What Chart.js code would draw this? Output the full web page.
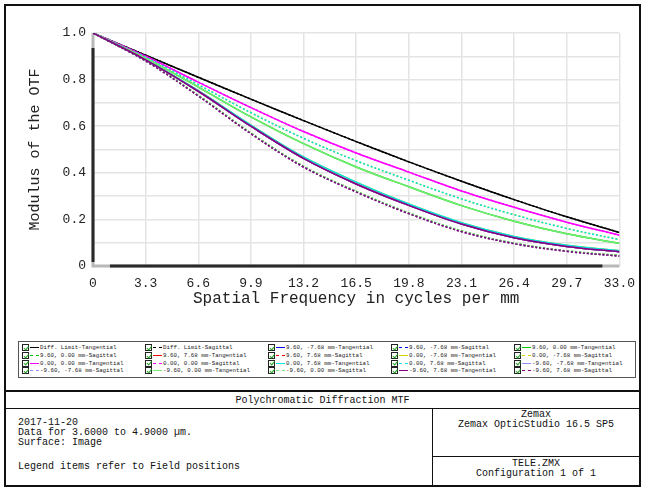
<!DOCTYPE html>
<html>
<head>
<meta charset="utf-8">
<script src="https://cdn.jsdelivr.net/npm/chart.js@4.4.1/dist/chart.umd.min.js"></script>
<style>
body { margin: 0; background: #fff; }
#page { position: relative; width: 645px; height: 489px; overflow: hidden; font-family: "Liberation Mono", monospace; color: #111; }
#frame { position: absolute; left: 4px; top: 4px; width: 633px; height: 479px; border: 2px solid #111; }
#wrap { position: absolute; left: 0; top: 0; width: 645px; height: 335px; }
#legend { position: absolute; left: 18px; top: 341px; width: 618px; height: 37px; box-sizing: border-box; border: 1px solid #555;
  display: grid; grid-template-columns: repeat(5, 123px); grid-auto-rows: 7.7px; padding: 2px 0 0 3px; }
.item { display: flex; align-items: center; white-space: nowrap; font-size: 5.8px; line-height: 7px; color: #222; }
.chk { position: relative; width: 5px; height: 5px; border: 1px solid #222; background: #fff; margin-right: 1px; flex: none; }
.chk::after { content: ''; position: absolute; left: 1.5px; top: -0.5px; width: 1.5px; height: 3.5px;
  border-right: 1.5px solid #1fa01f; border-bottom: 1.5px solid #1fa01f; transform: rotate(40deg); }
.smp { width: 9px; height: 0; flex: none; margin-right: 1px; }
#box { position: absolute; left: 4px; top: 390px; width: 637px; height: 97px; box-sizing: border-box; border: 2px solid #111; font-size: 10px; line-height: 10px; }
.t { position: absolute; white-space: nowrap; }
</style>
</head>
<body>
<div id="page">
  <div id="frame"></div>
  <div id="wrap"><canvas id="mtf" width="645" height="335"></canvas></div>
  <div id="legend"></div>
  <div id="box">
    <div class="t" style="left:0;width:633px;top:4px;text-align:center;">Polychromatic Diffraction MTF</div>
    <div style="position:absolute;left:0;top:16px;width:633px;border-top:1px solid #111;"></div>
    <div style="position:absolute;left:426px;top:16px;height:77px;border-left:1px solid #111;"></div>
    <div style="position:absolute;left:426px;top:64px;width:207px;border-top:1px solid #111;"></div>
    <div class="t" style="left:12px;top:26px;">2017-11-20</div>
    <div class="t" style="left:12px;top:36px;">Data for 3.6000 to 4.9000 µm.</div>
    <div class="t" style="left:12px;top:46px;">Surface: Image</div>
    <div class="t" style="left:12px;top:70px;">Legend items refer to Field positions</div>
    <div class="t" style="left:427px;width:206px;top:18px;text-align:center;">Zemax</div>
    <div class="t" style="left:427px;width:206px;top:28px;text-align:center;">Zemax OpticStudio 16.5 SP5</div>
    <div class="t" style="left:427px;width:206px;top:67px;text-align:center;">TELE.ZMX</div>
    <div class="t" style="left:427px;width:206px;top:77px;text-align:center;">Configuration 1 of 1</div>
  </div>
</div>
<script>
// spatial frequency samples (cycles per mm)
const freq = [0, 3.3, 6.6, 9.9, 13.2, 16.5, 19.8, 23.1, 26.4, 29.7, 33.0];

// MTF
const diffLimit = [1.000, 0.905, 0.810, 0.716, 0.624, 0.534, 0.447, 0.364, 0.285, 0.211, 0.144];
const onAxis    = [1.000, 0.900, 0.789, 0.680, 0.577, 0.485, 0.403, 0.322, 0.252, 0.188, 0.132];
const midYSag   = [1.000, 0.896, 0.778, 0.658, 0.548, 0.452, 0.368, 0.288, 0.220, 0.161, 0.113];
const midXTan   = [1.000, 0.892, 0.768, 0.640, 0.525, 0.425, 0.340, 0.259, 0.192, 0.138, 0.097];
const midYTan   = [1.000, 0.886, 0.753, 0.605, 0.468, 0.360, 0.266, 0.186, 0.127, 0.089, 0.066];
const cornerTan = [1.000, 0.885, 0.750, 0.600, 0.462, 0.352, 0.260, 0.180, 0.121, 0.084, 0.061];
const midXSag   = [1.000, 0.881, 0.733, 0.571, 0.428, 0.321, 0.228, 0.151, 0.098, 0.065, 0.045];
const cornerSag = [1.000, 0.880, 0.730, 0.568, 0.425, 0.318, 0.225, 0.148, 0.096, 0.063, 0.043];

// legend order = draw order
const fieldNames = ['Diff. Limit', '9.60, -7.68 mm', '9.60, 0.00 mm', '9.60, 7.68 mm', '0.00, -7.68 mm',
                    '0.00, 0.00 mm', '0.00, 7.68 mm', '-9.60, -7.68 mm', '-9.60, 0.00 mm', '-9.60, 7.68 mm'];
const fieldColors = ['#000000', '#0000ff', '#00c800', '#ff0000', '#d4d400',
                     '#ff00ff', '#00e4e4', '#9090ff', '#70ee70', '#800080'];
const tanSeries = [diffLimit, cornerTan, midXTan, cornerTan, midYTan, onAxis, midYTan, cornerTan, midXTan, cornerTan];
const sagSeries = [diffLimit, cornerSag, midXSag, cornerSag, midYSag, onAxis, midYSag, cornerSag, midXSag, cornerSag];

const xTicks = [0, 3.3, 6.6, 9.9, 13.2, 16.5, 19.8, 23.1, 26.4, 29.7, 33.0];
const xTickLabels = ['0', '3.3', '6.6', '9.9', '13.2', '16.5', '19.8', '23.1', '26.4', '29.7', '33.0'];
const yTicks = [0, 0.1, 0.2, 0.3, 0.4, 0.5, 0.6, 0.7, 0.8, 0.9, 1.0];
const yTickLabels = ['0', '', '0.2', '', '0.4', '', '0.6', '', '0.8', '', '1.0'];

const monoFont = 'Liberation Mono';

let datasets = [];
fieldNames.forEach((name, i) => {
    [['Tangential', tanSeries[i], []], ['Sagittal', sagSeries[i], [2, 2]]].forEach(([kind, vals, dash]) => {
        datasets.push({
            label: name + '-' + kind,
            data: freq.map((f, k) => ({ x: f, y: vals[k] })),
            borderColor: fieldColors[i],
            borderDash: dash,
            borderWidth: 1.5,
            pointRadius: 0,
            tension: 0.35,
            fill: false
        });
    });
});
// later entries on top, like the original
datasets.forEach((d, i) => { d.order = datasets.length - i; });

// axis lines: grey ends, dark middle
const axisLines = {
    id: 'axisLines',
    beforeDatasetsDraw(chart) {
        const { ctx, chartArea: a } = chart;
        ctx.save();
        ctx.lineWidth = 3;
        ctx.strokeStyle = '#b8b8b8';
        ctx.beginPath();
        ctx.moveTo(a.left, a.top); ctx.lineTo(a.left, a.bottom); ctx.lineTo(a.right, a.bottom);
        ctx.stroke();
        ctx.strokeStyle = '#2a2a2a';
        ctx.beginPath(); ctx.moveTo(a.left, a.top + 15); ctx.lineTo(a.left, a.bottom - 4); ctx.stroke();
        ctx.beginPath(); ctx.moveTo(a.left + 17, a.bottom); ctx.lineTo(a.right - 17, a.bottom); ctx.stroke();
        ctx.restore();
    }
};

const chart = new Chart(document.getElementById('mtf'), {
    type: 'line',
    data: { datasets: datasets },
    plugins: [axisLines],
    options: {
        responsive: false,
        animation: false,
        devicePixelRatio: 1,
        layout: { padding: { top: 33, right: 16, bottom: 0, left: 0 } },
        plugins: { legend: { display: false }, tooltip: { enabled: false } },
        scales: {
            x: {
                type: 'linear', min: 0, max: 33,
                afterBuildTicks: s => { s.ticks = xTicks.map(v => ({ value: v })); },
                afterFit: s => { s.height = 69; },
                ticks: { callback: (v, i) => xTickLabels[i], font: { family: monoFont, size: 13 }, color: '#222',
                         padding: 10, maxRotation: 0, autoSkip: false },
                grid: { color: '#e4e4e4', lineWidth: 1.5, drawTicks: false },
                border: { display: false },
                title: { display: true, text: 'Spatial Frequency in cycles per mm', color: '#222',
                         font: { family: monoFont, size: 16 }, padding: { top: 0, bottom: 27 } }
            },
            y: {
                min: 0, max: 1,
                afterBuildTicks: s => { s.ticks = yTicks.map(v => ({ value: v })); },
                afterFit: s => { s.width = 93; },
                ticks: { callback: (v, i) => yTickLabels[i], font: { family: monoFont, size: 13 }, color: '#222',
                         padding: 7, autoSkip: false },
                grid: { color: '#e4e4e4', lineWidth: 1.5, drawTicks: false },
                border: { display: false },
                title: { display: true, text: 'Modulus of the OTF', color: '#222',
                         font: { family: monoFont, size: 15 }, padding: { top: 26, bottom: 0 } }
            }
        }
    }
});

// html legend, 5 columns like the Zemax one
const legendEl = document.getElementById('legend');
chart.data.datasets.forEach(d => {
    const item = document.createElement('div');
    item.className = 'item';
    const solid = d.borderDash.length === 0;
    item.innerHTML = `<span class="chk"></span><span class="smp" style="border-top:1px ${solid ? 'solid' : 'dashed'} ${d.borderColor}"></span>${d.label}`;
    legendEl.appendChild(item);
});
</script>
</body>
</html>
